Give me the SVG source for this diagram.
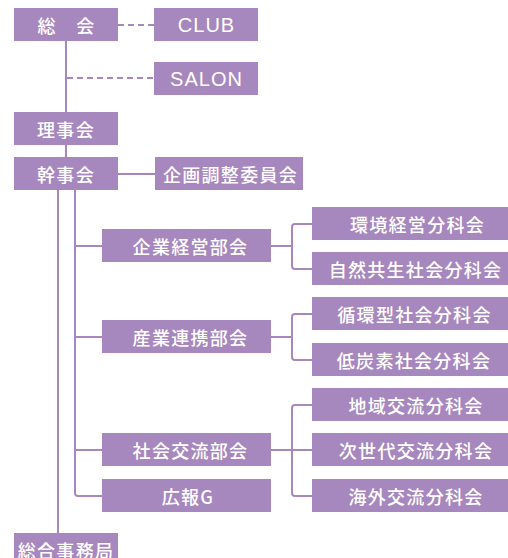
<svg xmlns="http://www.w3.org/2000/svg" width="508" height="558" viewBox="0 0 508 558">
<style>
.b{fill:#a788be}
.t{fill:#ffffff;font-family:"Noto Sans CJK JP","Noto Sans",sans-serif;font-size:18px;font-weight:500;letter-spacing:1.3px;text-anchor:middle;dominant-baseline:central}
.l{font-family:"Liberation Sans",Arial,sans-serif;font-size:20px;letter-spacing:1px;font-weight:400}
.c{fill:none;stroke:#a788be;stroke-width:2;stroke-linejoin:round}
.d{stroke-dasharray:6 4}
</style>
<rect width="508" height="558" fill="#ffffff"/>
<g id="connectors">
<path class="c" d="M66 41V157"/>
<path class="c d" d="M118 25H154"/>
<path class="c d" d="M67 78H154"/>
<path class="c" d="M118 174H155"/>
<path class="c" d="M58 190V533"/>
<path class="c" d="M75 190V493Q75 496 78 496H102"/>
<path class="c" d="M75 246H102M75 337H102M75 450H102"/>
<path class="c" d="M271 246H292"/>
<path class="c" d="M312 224H295Q292 224 292 227V266Q292 269 295 269H312"/>
<path class="c" d="M271 337H292"/>
<path class="c" d="M312 314H295Q292 314 292 317V357Q292 360 295 360H312"/>
<path class="c" d="M271 450H312"/>
<path class="c" d="M312 405H295Q292 405 292 408V493Q292 496 295 496H312"/>
</g>
<g id="soukai"><rect class="b" x="14" y="8" width="104" height="33"/><text class="t" x="66.5" y="24.5">総　会</text></g>
<g id="club"><rect class="b" x="154" y="8" width="104" height="33"/><text class="t l" x="206.5" y="24.5">CLUB</text></g>
<g id="salon"><rect class="b" x="154" y="62" width="104" height="33"/><text class="t l" x="206.5" y="78.5">SALON</text></g>
<g id="rijikai"><rect class="b" x="14" y="112" width="104" height="33"/><text class="t" x="66" y="128.5">理事会</text></g>
<g id="kanjikai"><rect class="b" x="14" y="157" width="104" height="33"/><text class="t" x="66" y="173.5">幹事会</text></g>
<g id="kikaku"><rect class="b" x="155" y="157" width="148" height="33"/><text class="t" x="230.5" y="173.5">企画調整委員会</text></g>
<g id="kigyou"><rect class="b" x="102" y="229" width="169" height="33"/><text class="t" x="190.5" y="245.5">企業経営部会</text></g>
<g id="sangyou"><rect class="b" x="102" y="320" width="169" height="33"/><text class="t" x="190.5" y="336.5">産業連携部会</text></g>
<g id="shakai"><rect class="b" x="102" y="433" width="169" height="33"/><text class="t" x="190.5" y="449.5">社会交流部会</text></g>
<g id="kouhou"><rect class="b" x="102" y="479" width="169" height="33"/><text class="t" x="188" y="495.5">広報G</text></g>
<g id="kankyo"><rect class="b" x="312" y="207" width="206" height="33"/><text class="t" x="417.5" y="223.5">環境経営分科会</text></g>
<g id="shizen"><rect class="b" x="312" y="252" width="206" height="33"/><text class="t" x="415.5" y="268.5">自然共生社会分科会</text></g>
<g id="junkan"><rect class="b" x="312" y="297" width="206" height="33"/><text class="t" x="414.5" y="313.5">循環型社会分科会</text></g>
<g id="teitanso"><rect class="b" x="312" y="343" width="206" height="33"/><text class="t" x="414" y="359.5">低炭素社会分科会</text></g>
<g id="chiiki"><rect class="b" x="312" y="388" width="206" height="33"/><text class="t" x="416" y="404.5">地域交流分科会</text></g>
<g id="jisedai"><rect class="b" x="312" y="433" width="206" height="33"/><text class="t" x="416" y="449.5">次世代交流分科会</text></g>
<g id="kaigai"><rect class="b" x="312" y="479" width="206" height="33"/><text class="t" x="416" y="495.5">海外交流分科会</text></g>
<g id="jimukyoku"><rect class="b" x="14" y="533" width="104" height="33"/><text class="t" x="66" y="549.5">総合事務局</text></g>
</svg>
